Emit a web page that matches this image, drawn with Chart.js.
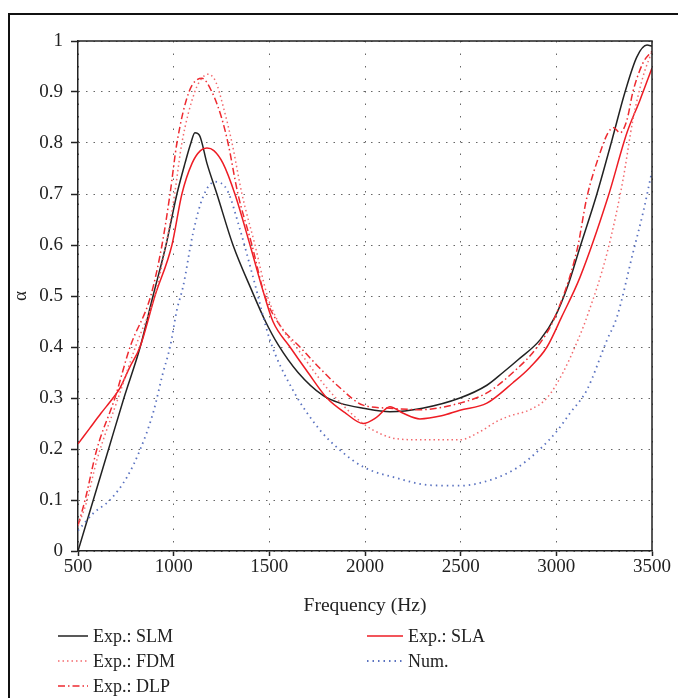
<!DOCTYPE html>
<html>
<head>
<meta charset="utf-8">
<script src="https://cdn.jsdelivr.net/npm/chart.js@4.4.0/dist/chart.umd.min.js"></script>
<style>
  body { margin: 0; background: #fff; width: 678px; height: 698px; overflow: hidden; position: relative; }
  #frame { position: absolute; left: 8px; top: 13px; width: 700px; height: 700px; border-top: 2px solid #111; border-left: 2px solid #111; }
  #chart { position: absolute; left: 0; top: 0; }
  .legend-item { position: absolute; height: 22px; display: flex; align-items: center; font-family: "Liberation Serif", "DejaVu Serif", serif; font-size: 18px; color: #222; }
  .legend-item svg { margin-right: 3px; }
</style>
</head>
<body>
<div id="frame"></div>
<canvas id="chart" width="678" height="698"></canvas>
<div id="legend"></div>
<script>
// Sound absorption coefficient vs frequency
const slmFreq = [500, 580, 660, 740, 825, 892, 960, 1017, 1059, 1090, 1111, 1135, 1174, 1226, 1310, 1409, 1480, 1545, 1650, 1780, 1870, 1990, 2130, 2300, 2496, 2637, 2721, 2800, 2915, 2993, 3060, 3124, 3212, 3291, 3359, 3421, 3474, 3500];
const slmAlpha = [0, 0.10, 0.20, 0.30, 0.40, 0.50, 0.60, 0.70, 0.76, 0.80, 0.82, 0.815, 0.76, 0.70, 0.60, 0.51, 0.45, 0.405, 0.35, 0.305, 0.29, 0.28, 0.273, 0.28, 0.30, 0.325, 0.35, 0.375, 0.414, 0.459, 0.52, 0.596, 0.70, 0.806, 0.90, 0.969, 0.992, 0.99];

const slaFreq = [500, 560, 620, 683, 720, 770, 824, 902, 991, 1043, 1096, 1140, 1174, 1210, 1258, 1320, 1399, 1467, 1519, 1608, 1702, 1801, 1900, 1990, 2060, 2130, 2200, 2287, 2400, 2496, 2637, 2773, 2862, 2951, 3029, 3124, 3270, 3369, 3437, 3500];
const slaAlpha = [0.21, 0.24, 0.27, 0.30, 0.32, 0.36, 0.40, 0.50, 0.60, 0.70, 0.76, 0.785, 0.79, 0.785, 0.76, 0.70, 0.60, 0.51, 0.45, 0.40, 0.35, 0.30, 0.27, 0.25, 0.262, 0.283, 0.27, 0.259, 0.265, 0.276, 0.29, 0.33, 0.36, 0.40, 0.46, 0.537, 0.694, 0.82, 0.884, 0.947];

const fdmFreq = [500, 540, 600, 710, 800, 900, 960, 1005, 1043, 1110, 1150, 1180, 1220, 1260, 1305, 1357, 1425, 1490, 1560, 1640, 1800, 1900, 1990, 2080, 2167, 2300, 2496, 2601, 2688, 2758, 2862, 2951, 3035, 3113, 3160, 3265, 3348, 3400, 3453, 3500];
const fdmAlpha = [0.05, 0.09, 0.18, 0.30, 0.40, 0.50, 0.60, 0.70, 0.80, 0.90, 0.928, 0.935, 0.92, 0.87, 0.80, 0.70, 0.60, 0.50, 0.44, 0.40, 0.32, 0.28, 0.25, 0.23, 0.22, 0.218, 0.218, 0.234, 0.254, 0.265, 0.277, 0.30, 0.35, 0.414, 0.459, 0.584, 0.727, 0.845, 0.93, 0.98];

const dlpFreq = [500, 537, 599, 693, 772, 880, 939, 981, 1017, 1080, 1148, 1200, 1250, 1284, 1336, 1409, 1477, 1560, 1660, 1760, 1869, 1990, 2130, 2287, 2496, 2637, 2773, 2900, 2993, 3108, 3160, 3228, 3270, 3300, 3333, 3369, 3400, 3453, 3500];
const dlpAlpha = [0.05, 0.10, 0.20, 0.30, 0.40, 0.50, 0.60, 0.70, 0.80, 0.90, 0.927, 0.90, 0.85, 0.80, 0.70, 0.60, 0.50, 0.44, 0.40, 0.36, 0.32, 0.286, 0.28, 0.277, 0.29, 0.31, 0.35, 0.40, 0.459, 0.59, 0.694, 0.78, 0.82, 0.83, 0.82, 0.845, 0.90, 0.957, 0.98];

const numFreq = [500, 580, 667, 756, 824, 892, 944, 981, 1017, 1049, 1101, 1153, 1216, 1279, 1347, 1415, 1503, 1624, 1765, 1869, 1990, 2167, 2340, 2496, 2653, 2794, 2915, 3003, 3071, 3160, 3265, 3317, 3400, 3453, 3500];
const numAlpha = [0.04, 0.074, 0.10, 0.145, 0.198, 0.27, 0.349, 0.40, 0.473, 0.518, 0.623, 0.694, 0.724, 0.708, 0.63, 0.537, 0.414, 0.315, 0.237, 0.198, 0.165, 0.143, 0.129, 0.128, 0.139, 0.163, 0.20, 0.235, 0.27, 0.316, 0.414, 0.459, 0.584, 0.663, 0.745];

const seriesLabels = ["Exp.: SLM", "Exp.: SLA", "Exp.: FDM", "Num.", "Exp.: DLP"];

const serif = "'Liberation Serif', 'DejaVu Serif', serif";

function toPoints(xs, ys) {
  return xs.map((x, i) => ({ x: x, y: ys[i] }));
}

function line(label, xs, ys, color, dash, width) {
  return {
    label: label,
    data: toPoints(xs, ys),
    borderColor: color,
    borderDash: dash,
    borderWidth: width,
    pointRadius: 0,
    fill: false,
    cubicInterpolationMode: "monotone",
  };
}

const styles = {
  slm: { color: "#222222", dash: [], width: 1.5 },
  sla: { color: "#ee1c24", dash: [], width: 1.5 },
  fdm: { color: "#f36a6e", dash: [1.5, 3], width: 1.5 },
  num: { color: "#5a72c0", dash: [1.5, 4], width: 1.8 },
  dlp: { color: "#ee2a30", dash: [7, 3, 1.5, 3], width: 1.5 },
};

// frame around the plot area (top and right edges)
const boxPlugin = {
  id: "box",
  afterDraw(chart) {
    const a = chart.chartArea;
    const ctx = chart.ctx;
    ctx.save();
    ctx.strokeStyle = "#222";
    ctx.lineWidth = 1.5;
    ctx.beginPath();
    ctx.moveTo(a.left, a.top);
    ctx.lineTo(a.right, a.top);
    ctx.lineTo(a.right, a.bottom);
    ctx.stroke();
    ctx.restore();
  },
};

const ctx = document.getElementById("chart").getContext("2d");
new Chart(ctx, {
  type: "line",
  data: {
    datasets: [
      line(seriesLabels[3], numFreq, numAlpha, styles.num.color, styles.num.dash, styles.num.width),
      line(seriesLabels[2], fdmFreq, fdmAlpha, styles.fdm.color, styles.fdm.dash, styles.fdm.width),
      line(seriesLabels[4], dlpFreq, dlpAlpha, styles.dlp.color, styles.dlp.dash, styles.dlp.width),
      line(seriesLabels[1], slaFreq, slaAlpha, styles.sla.color, styles.sla.dash, styles.sla.width),
      line(seriesLabels[0], slmFreq, slmAlpha, styles.slm.color, styles.slm.dash, styles.slm.width),
    ],
  },
  options: {
    responsive: false,
    animation: false,
    layout: { padding: { left: 0, top: 41, right: 26, bottom: 76 } },
    plugins: { legend: { display: false }, tooltip: { enabled: false } },
    scales: {
      x: {
        type: "linear",
        min: 500,
        max: 3500,
        ticks: {
          stepSize: 500,
          font: { family: serif, size: 19 },
          color: "#222",
          padding: 0,
          maxRotation: 0,
          callback: (v) => String(v),
        },
        grid: { color: "#666", lineWidth: 1, tickLength: 5, tickColor: "#222", tickWidth: 1.5 },
        border: { color: "#222", width: 1.5, dash: [1.5, 11] },
        title: { display: true, text: "Frequency (Hz)", font: { family: serif, size: 19.5 }, color: "#222", padding: { top: 6, bottom: 4 } },
        afterFit(scale) { scale.height = 71; },
      },
      y: {
        min: 0,
        max: 1,
        ticks: {
          stepSize: 0.1,
          font: { family: serif, size: 19 },
          color: "#222",
          padding: 8,
          callback: (v) => String(Math.round(v * 10) / 10),
        },
        grid: { color: "#666", lineWidth: 1, tickLength: 7, tickColor: "#222", tickWidth: 1.5 },
        border: { color: "#222", width: 1.5, dash: [1.5, 6] },
        title: { display: true, text: "α", font: { family: serif, size: 19 }, color: "#222", padding: { top: 10, bottom: 0 } },
        afterFit(scale) { scale.width = 78; },
      },
    },
  },
  plugins: [boxPlugin],
});

// legend: two columns below the axis title
const legendRows = [
  { key: "slm", label: seriesLabels[0], x: 58, y: 625 },
  { key: "sla", label: seriesLabels[1], x: 367, y: 625 },
  { key: "fdm", label: seriesLabels[2], x: 58, y: 650 },
  { key: "num", label: seriesLabels[3], x: 367, y: 650 },
  { key: "dlp", label: seriesLabels[4], x: 58, y: 675 },
];
const legend = document.getElementById("legend");
legendRows.forEach((row) => {
  const s = styles[row.key];
  const item = document.createElement("div");
  item.className = "legend-item";
  item.style.left = row.x + "px";
  item.style.top = row.y + "px";
  const w = row.x > 100 ? 38 : 32;
  item.innerHTML =
    `<svg width="${w}" height="10"><line x1="0" y1="5" x2="${w - 2}" y2="5" stroke="${s.color}" stroke-width="${s.width}" stroke-dasharray="${s.dash.join(" ") || "none"}"/></svg>` +
    `<span>${row.label}</span>`;
  legend.appendChild(item);
});
</script>
</body>
</html>
